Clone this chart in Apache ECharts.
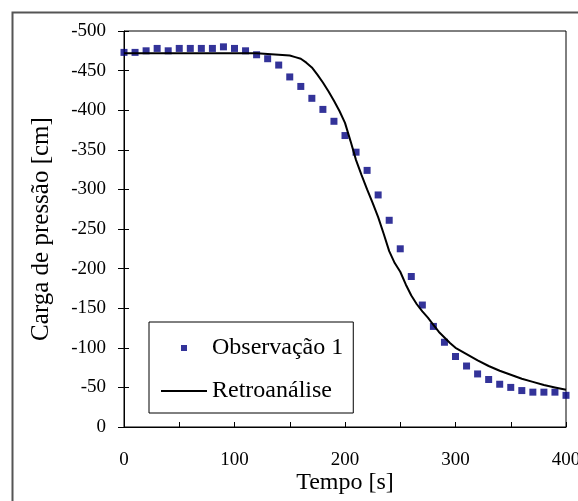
<!DOCTYPE html>
<html><head><meta charset="utf-8">
<script src="https://cdn.jsdelivr.net/npm/echarts@6/dist/echarts.min.js"></script>
<style>html,body{margin:0;padding:0;background:#fff}#c{width:578px;height:501px}</style>
</head><body><div id="c"></div>
<script>
// Observação 1 (scatter)
const obsTime = [0,10,20,30,40,50,60,70,80,90,100,110,120,130,140,150,160,170,180,190,200,210,220,230,240,250,260,270,280,290,300,310,320,330,340,350,360,370,380,390,400];
const obsValue = [-473,-473,-475,-478,-475,-478,-478,-478,-478,-480,-478,-475,-470,-465,-457,-442,-430,-415,-401,-386,-368,-347,-324,-293,-261,-225,-190,-154,-127,-107,-89,-77,-67,-60,-54,-50,-46,-44,-44,-44,-40];
// Retroanálise (line)
const simTime = [0,50,100,120,130,140,150,155,160,165,170,175,180,185,190,195,200,205,210,215,220,225,230,235,240,245,250,255,260,265,270,275,280,285,290,295,300,310,320,330,340,350,360,370,380,390,400];
const simValue = [-472,-472,-472,-472,-471,-470,-469,-467,-465,-460,-454,-445,-435,-424,-412,-399,-384,-361,-337,-318,-300,-283,-265,-244,-222,-207,-196,-180,-166,-155,-146,-138,-129,-120,-113,-106,-100,-92,-84,-77,-71,-66,-61,-57,-53,-50,-47];
const xTicks = [0,100,200,300,400];

const font = 'Liberation Serif, Times New Roman, serif';
const chart = echarts.init(document.getElementById('c'), null, {renderer:'canvas'});
chart.setOption({
  animation:false,
  backgroundColor:'#fff',
  graphic:[{type:'rect', left:10, top:10, shape:{width:600, height:600}, style:{fill:'none', stroke:'#555', lineWidth:2}, silent:true}],
  grid:{left:124, right:12, top:31, bottom:74, outerBoundsMode:'none', containLabel:false,
    show:true, borderColor:'#000', borderWidth:1},
  xAxis:{type:'value', min:0, max:400, interval:50,
    name:'Tempo [s]', nameLocation:'middle', nameGap:44, nameMoveOverlap:false,
    nameTextStyle:{fontFamily:font, fontSize:24, color:'#000', verticalAlign:'top'},
    axisLine:{lineStyle:{color:'#000', width:1}},
    axisTick:{inside:true, length:5, lineStyle:{color:'#000'}},
    splitLine:{show:false},
    axisLabel:{fontFamily:font, fontSize:19, color:'#000', margin:24,
      formatter:v=> xTicks.indexOf(v)>=0 ? String(v) : ''}},
  yAxis:[{type:'value', min:-500, max:0, interval:50, inverse:true,
    name:'Carga de pressão [cm]', nameLocation:'middle', nameGap:70,
    nameTextStyle:{fontFamily:font, fontSize:25, color:'#000'},
    axisLine:{show:true, lineStyle:{color:'#000'}},
    axisTick:{inside:false, length:6, lineStyle:{color:'#000'}},
    splitLine:{show:false},
    axisLabel:{fontFamily:font, fontSize:19, color:'#000', margin:18}},
   {type:'value', min:-500, max:0, interval:50, inverse:true, position:'left',
    axisLine:{show:false}, axisTick:{inside:true, length:5, lineStyle:{color:'#000'}},
    axisLabel:{show:false}, splitLine:{show:false}}],
  legend:{orient:'vertical', left:149, top:322,
    backgroundColor:'#fff', borderColor:'#000', borderWidth:1,
    padding:[14,10,10,12], itemGap:19, itemWidth:46, itemHeight:14, itemStyle:{borderWidth:0},
    textStyle:{fontFamily:font, fontSize:24, color:'#000'},
    data:[{name:'Observação 1', icon:'path://M0,0L0,0M20,4L26,4L26,10L20,10ZM46,14L46,14'},
          {name:'Retroanálise', icon:'path://M0,0L0,0M0,6L46,6L46,8L0,8ZM46,14L46,14'}]},
  series:[
    {name:'Observação 1', type:'scatter', symbol:'rect', symbolSize:7,
     itemStyle:{color:'#000080'},
     data:obsTime.map((t,i)=>[t,obsValue[i]])},
    {name:'Retroanálise', type:'line', showSymbol:false, symbol:'none',
     lineStyle:{color:'#000', width:2}, itemStyle:{color:'#000'},
     data:simTime.map((t,i)=>[t,simValue[i]])}
  ]
});
</script></body></html>
